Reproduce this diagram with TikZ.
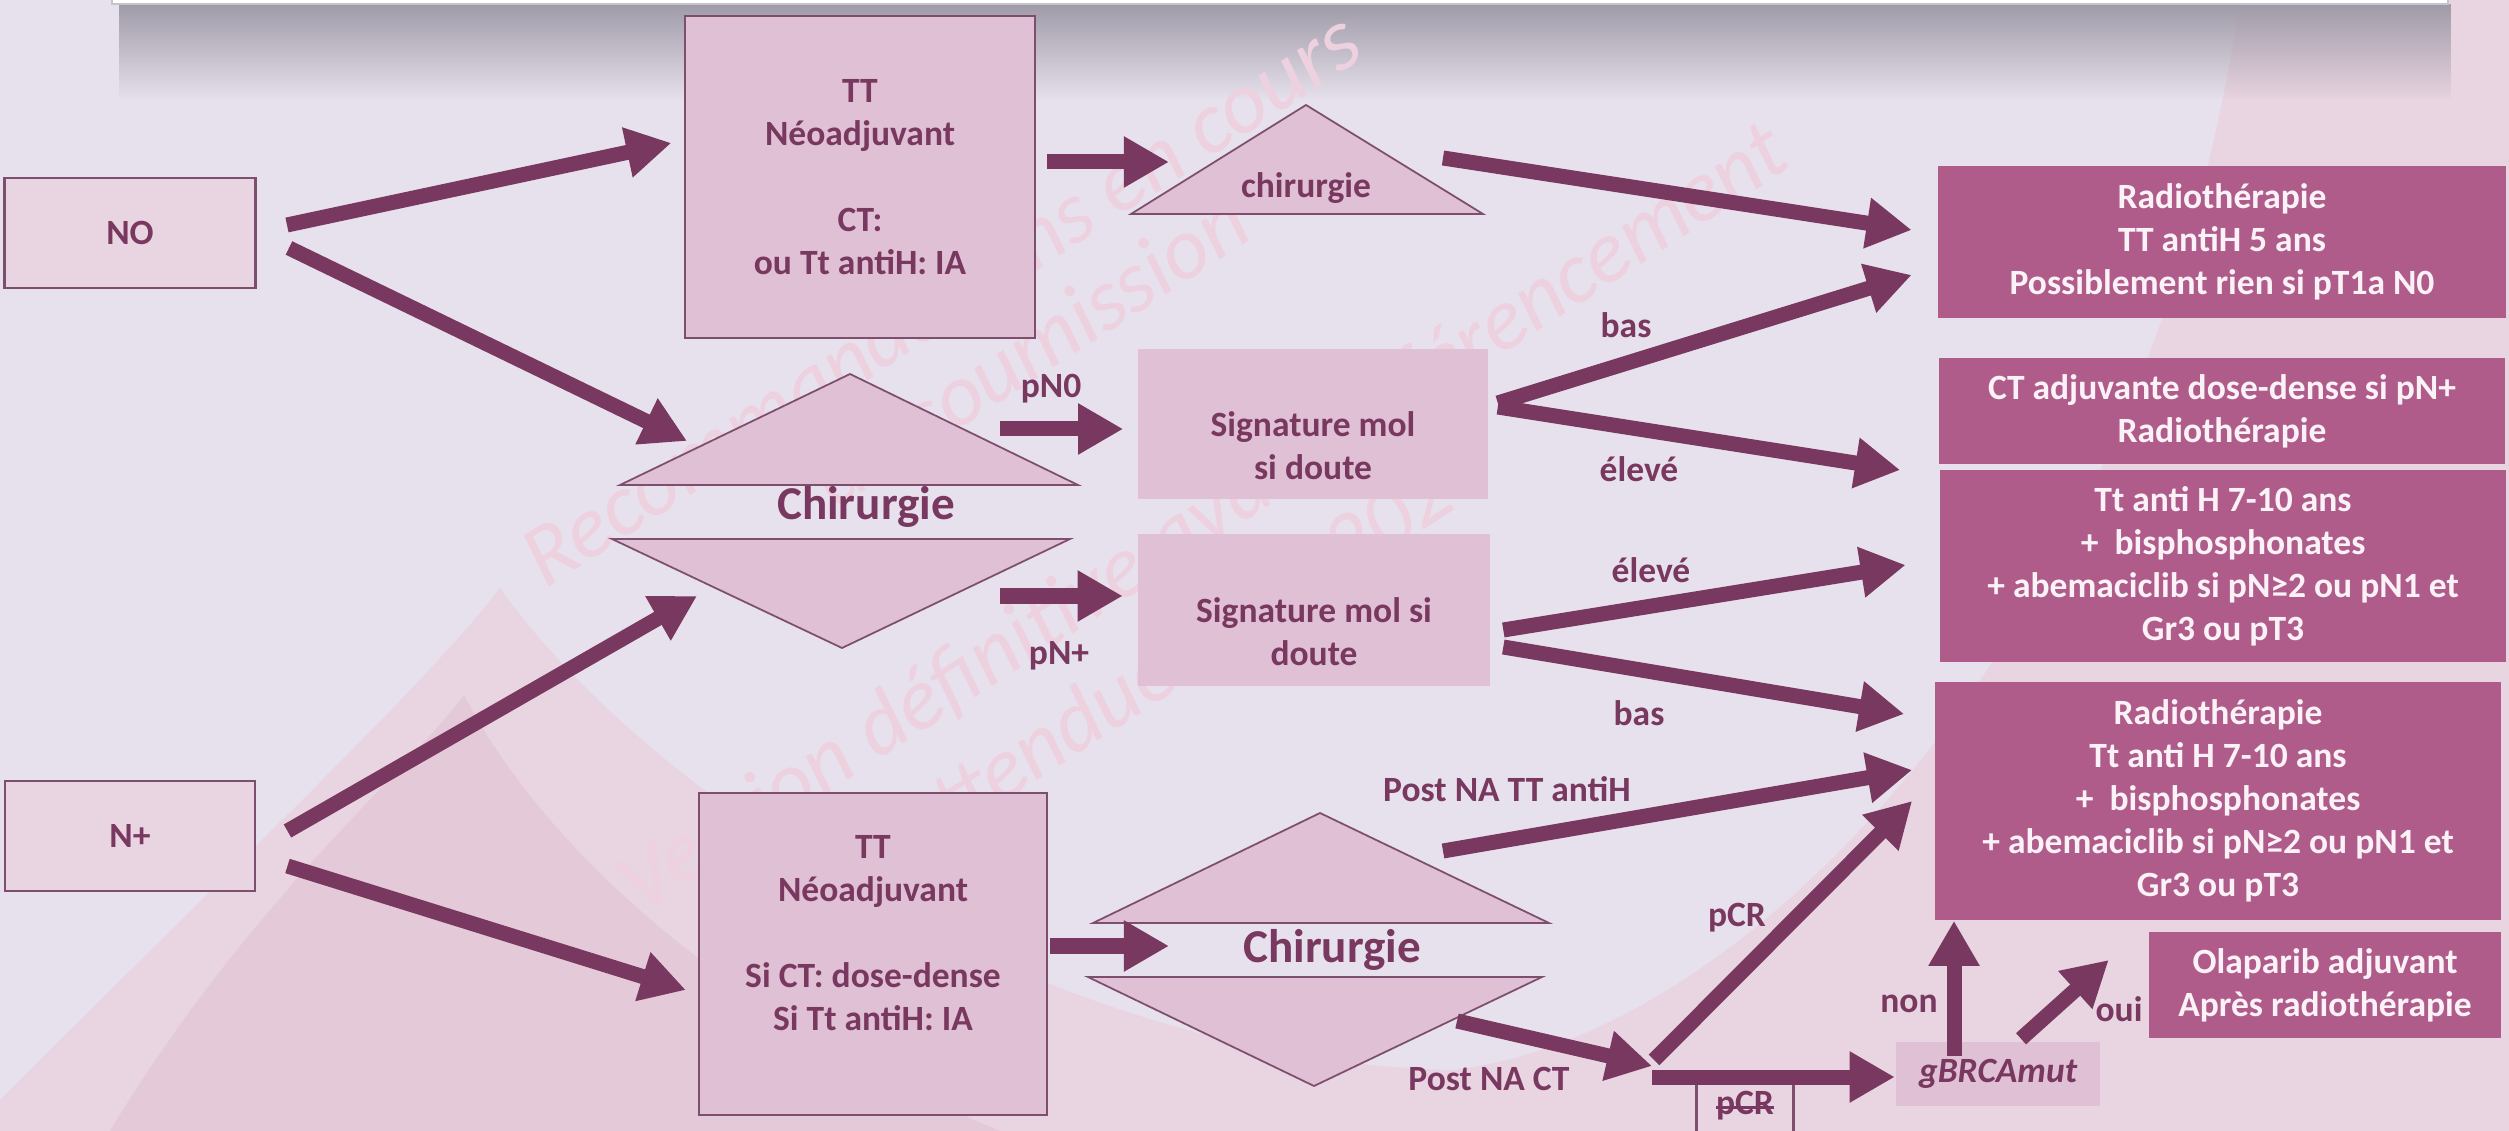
\documentclass[tikz,border=0pt]{standalone}
\usepackage{fontspec}
\setmainfont{Carlito}
\usetikzlibrary{arrows.meta,fadings}
\definecolor{fond}{RGB}{231,225,237}
\definecolor{rosefond}{RGB}{233,212,225}
\definecolor{rosefonce}{RGB}{228,201,217}
\definecolor{ombre}{RGB}{160,155,168}
\definecolor{prune}{RGB}{121,56,96}
\definecolor{mauve}{RGB}{224,192,213}
\definecolor{mauveclair}{RGB}{233,213,226}
\definecolor{bordure}{RGB}{125,78,110}
\definecolor{framboise}{RGB}{176,92,139}
\definecolor{blanc}{RGB}{250,242,247}
\definecolor{filigrane}{RGB}{237,209,223}
\tikzfading[name=fondu ombre,top color=transparent!0,bottom color=transparent!100]
\newcommand\barretexte[1]{\setbox0\hbox{#1}\rlap{\rule[0.35ex]{\wd0}{0.7pt}}#1}

\begin{document}
\begin{tikzpicture}[x=0.01cm,y=-0.01cm,
 txt/.style={text=prune,font=\fontsize{10.1}{12.2}\selectfont\bfseries,align=center,inner sep=0pt},
 grand/.style={text=prune,font=\fontsize{13.4}{16}\selectfont\bfseries,inner sep=0pt},
 boite/.style={txt,fill=mauve,draw=bordure,line width=0.6pt},
 boiteclaire/.style={txt,fill=mauveclair,draw=bordure,line width=0.8pt},
 fondsig/.style={fill=mauve,inner sep=0pt},
 rose/.style={fill=framboise,text=blanc,font=\fontsize{10.1}{12.2}\selectfont\bfseries,align=center,inner sep=0pt},
 tri/.style={fill=mauve,draw=bordure,line width=0.5pt},
 fl/.style={draw=prune,line width=0.15cm,-{Triangle[length=0.45cm,width=0.48cm]}},
 filig/.style={text=filigrane,font=\fontsize{25}{30}\selectfont\itshape,anchor=base west,rotate=33,inner sep=0pt}]
 \useasboundingbox (0,0) rectangle (2509,1131);
 \clip (0,0) rectangle (2509,1131);
 \fill[fond] (0,0) rectangle (2509,1131);
 \fill[rosefond] (0,1100) .. controls (250,850) and (430,680) .. (500,588) .. controls (650,800) and (1050,1060) .. (1450,1070) .. controls (1750,1040) and (2150,620) .. (2240,0) -- (2509,0) -- (2509,1131) -- (0,1131) -- cycle;
 \fill[rosefonce] (110,1131) .. controls (250,900) and (400,780) .. (464,695) .. controls (560,880) and (780,1040) .. (1000,1131) -- cycle;
 \fill[ombre,path fading=fondu ombre] (120,4) rectangle (2455,100);
 \filldraw[fill=white,draw=ombre!60] (112,-20) rectangle (2448,4);

 \node[filig] (fil1) at (545,590) {Recommandations en cours};
 \node[filig] (fil2) at (835,510) {de soumission};
 \node[filig] (fil3) at (640,915) {Version définitive avant référencement};
 \node[filig] (fil4) at (915,860) {attendue avril 2023};

 \draw[tri] (620,485) -- (850,374) -- (1078,485) -- cycle;
 \draw[tri] (612,539) -- (1070,539) -- (842,648) -- cycle;
 \draw[tri] (1131,214) -- (1306,105) -- (1483,214) -- cycle;
 \draw[tri] (1093,923) -- (1320,813) -- (1549,923) -- cycle;
 \draw[tri] (1088,977) -- (1542,977) -- (1314,1086) -- cycle;

 \node[boiteclaire,minimum width=2.51cm,minimum height=1.10cm] (no) at (130,233) {NO};
 \node[boiteclaire,minimum width=2.50cm,minimum height=1.10cm] (nplus) at (130,836) {N+};
 \node[boite,minimum width=3.49cm,minimum height=3.22cm] (tt1) at (860,177) {TT\\Néoadjuvant\\[12.2pt]CT:\\ou Tt antiH: IA};
 \node[boite,minimum width=3.48cm,minimum height=3.22cm] (tt2) at (873,954) {};
 \node[txt] (tt2txt) at (873,933) {TT\\Néoadjuvant\\[12.2pt]Si CT: dose-dense\\Si Tt antiH: IA};
 \node[txt] (chirtop) at (1306,188) {chirurgie};
 \node[grand] (chir1) at (866,507) {Chirurgie};
 \node[grand] (chir2) at (1332,950) {Chirurgie};
 \node[fondsig,minimum width=3.50cm,minimum height=1.50cm] (sig1) at (1313,424) {};
 \node[txt] (sig1txt) at (1313,446) {Signature mol\\si doute};
 \node[fondsig,minimum width=3.51cm,minimum height=1.51cm] (sig2) at (1314,610) {};
 \node[txt] (sig2txt) at (1314,632) {Signature mol si\\doute};
 \node[rose,minimum width=5.67cm,minimum height=1.51cm] (radio1) at (2222,242) {Radiothérapie\\TT antiH 5 ans\\Possiblement rien si pT1a N0};
 \node[rose,minimum width=5.66cm,minimum height=1.06cm] (radio2) at (2222,411) {CT adjuvante dose-dense si pN+\\Radiothérapie};
 \node[rose,minimum width=5.65cm,minimum height=1.92cm] (radio3) at (2223,566) {Tt anti H 7-10 ans\\+\ \ bisphosphonates\\+ abemaciclib si pN≥2 ou pN1 et\\Gr3 ou pT3};
 \node[rose,minimum width=5.66cm,minimum height=2.38cm] (radio4) at (2218,801) {Radiothérapie\\Tt anti H 7-10 ans\\+\ \ bisphosphonates\\+ abemaciclib si pN≥2 ou pN1 et\\Gr3 ou pT3};
 \node[rose,minimum width=3.51cm,minimum height=1.06cm] (olap) at (2325,985) {Olaparib adjuvant\\Après radiothérapie};
 \node[fondsig,txt,font=\fontsize{10.1}{12.2}\selectfont\bfseries\itshape,minimum width=2.03cm,minimum height=0.63cm] (gbrca) at (1998,1074) {gBRCAmut};
 \node[txt,draw=bordure,line width=0.6pt,minimum width=0.97cm,minimum height=0.52cm] (pcr) at (1745,1106) {\barretexte{pCR}};
 \coordinate (jonction) at (1652,1066);

 \draw[fl] ([shift={(30,-8)}]no.east) -- ([shift={(-13,-34)}]tt1.west);
 \draw[fl] ([shift={(32,15)}]no.east) -- ([shift={(-179,-66)}]chir1.center);
 \draw[fl] ([shift={(11,-15)}]tt1.east) -- ([shift={(-137,-26)}]chirtop.center);
 \draw[fl] ([shift={(137,-30)}]chirtop.center) -- ([shift={(-26,-12)}]radio1.west);
 \draw[fl] ([shift={(134,-78)}]chir1.center) -- ([shift={(-14,5)}]sig1.west);
 \draw[fl] ([shift={(134,89)}]chir1.center) -- ([shift={(-15,-14)}]sig2.west);
 \draw[fl] ([shift={(9,-21)}]sig1.east) -- ([shift={(-26,33)}]radio1.west);
 \draw[fl] ([shift={(9,-17)}]sig1.east) -- ([shift={(-38,59)}]radio2.west);
 \draw[fl] ([shift={(13,20)}]sig2.east) -- ([shift={(-34,-1)}]radio3.west);
 \draw[fl] ([shift={(13,37)}]sig2.east) -- ([shift={(-30,-87)}]radio4.west);
 \draw[fl] ([shift={(31,-5)}]nplus.east) -- ([shift={(-169,89)}]chir1.center);
 \draw[fl] ([shift={(31,30)}]nplus.east) -- ([shift={(-12,36)}]tt2.west);
 \draw[fl] ([shift={(2,-8)}]tt2.east) -- ([shift={(-163,-4)}]chir2.center);
 \draw[fl] ([shift={(111,-99)}]chir2.center) -- ([shift={(-22,-31)}]radio4.west);
 \draw[fl] ([shift={(125,71)}]chir2.center) -- (jonction);
 \draw[fl] ([shift={(2,-6)}]jonction) -- ([shift={(-22,0)}]radio4.west);
 \draw[fl] ([shift={(0,11)}]jonction) -- ([shift={(-1,3)}]gbrca.west);
 \draw[fl] ([shift={(-44,14)}]gbrca.north) -- ([shift={(-264,0)}]radio4.south);
 \draw[fl] ([shift={(23,-3)}]gbrca.north) -- ([shift={(-40,-25)}]olap.west);

 \node[txt] (pn0) at (1051,389) {pN0};
 \node[txt] (pnplus) at (1059,656) {pN+};
 \node[txt] (bas1) at (1626,325) {bas};
 \node[txt] (eleve1) at (1639,469) {élevé};
 \node[txt] (eleve2) at (1651,570) {élevé};
 \node[txt] (bas2) at (1639,713) {bas};
 \node[txt] (postah) at (1507,789) {Post NA TT antiH};
 \node[txt] (postct) at (1489,1079) {Post NA CT};
 \node[txt] (pcrlbl) at (1737,918) {pCR};
 \node[txt] (non) at (1909,1004) {non};
 \node[txt] (oui) at (2119,1009) {oui};
\end{tikzpicture}
\end{document}
